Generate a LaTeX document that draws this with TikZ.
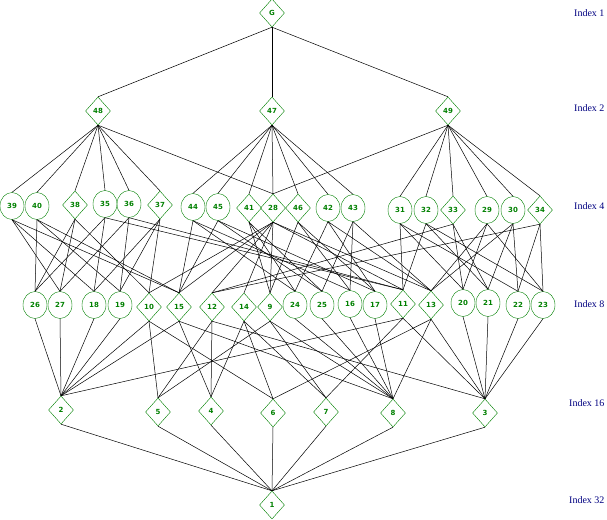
\documentclass[tikz,border=0pt]{standalone}
\usepackage{fontspec}
\setmainfont{Liberation Serif}
\setsansfont{DejaVu Sans}
\usetikzlibrary{shapes.geometric}
\definecolor{ngreen}{RGB}{0,128,0}
\definecolor{nblue}{RGB}{0,0,128}
\tikzset{
  cnode/.style={ellipse,draw=ngreen,text=ngreen,inner sep=0pt,minimum width=24pt,minimum height=27pt,font=\sffamily\bfseries\fontsize{7}{7}\selectfont},
  dnode/.style={diamond,draw=ngreen,text=ngreen,inner sep=0pt,minimum width=25pt,minimum height=28pt,aspect=0.9,font=\sffamily\bfseries\fontsize{7}{7}\selectfont},
  idx/.style={anchor=east,text=nblue,font=\fontsize{10}{10}\selectfont},
  edge/.style={draw=black,line width=0.5pt}
}
\begin{document}
\begin{tikzpicture}[x=1pt,y=-1pt]
\useasboundingbox (0,0) rectangle (607,519);
% index labels
\node[idx] (i1) at (608,13) {Index 1};
\node[idx] (i2) at (608,108) {Index 2};
\node[idx] (i4) at (608,206) {Index 4};
\node[idx] (i8) at (608,304) {Index 8};
\node[idx] (i16) at (608,403) {Index 16};
\node[idx] (i32) at (608,500) {Index 32};
% nodes
\node[dnode] (G) at (272,13) {G};
\node[dnode] (n48) at (98,111) {48};
\node[dnode] (n47) at (272,111) {47};
\node[dnode] (n49) at (448,111) {49};
% index 4
\node[cnode] (n39) at (12,206) {39};
\node[cnode] (n40) at (37,206) {40};
\node[dnode] (n38) at (75,205) {38};
\node[cnode] (n35) at (105,204) {35};
\node[cnode] (n36) at (129,204) {36};
\node[dnode] (n37) at (160,205) {37};
\node[cnode] (n44) at (193,207) {44};
\node[cnode] (n45) at (218,207) {45};
\node[dnode] (n41) at (249,208) {41};
\node[dnode] (n28) at (273,208) {28};
\node[dnode] (n46) at (298,208) {46};
\node[cnode] (n42) at (328,208) {42};
\node[cnode] (n43) at (353,208) {43};
\node[cnode] (n31) at (400,210) {31};
\node[cnode] (n32) at (426,210) {32};
\node[dnode] (n33) at (453,210) {33};
\node[cnode] (n29) at (487,210) {29};
\node[cnode] (n30) at (513,210) {30};
\node[dnode] (n34) at (540,210) {34};
% index 8
\node[cnode] (n26) at (35,305) {26};
\node[cnode] (n27) at (60,305) {27};
\node[cnode] (n18) at (94,305) {18};
\node[cnode] (n19) at (120,305) {19};
\node[dnode] (n10) at (149,307) {10};
\node[dnode] (n15) at (179,307) {15};
\node[dnode] (n12) at (212,307) {12};
\node[dnode] (n14) at (244,307) {14};
\node[dnode] (n9) at (270,307) {9};
\node[cnode] (n24) at (295,305) {24};
\node[cnode] (n25) at (322,305) {25};
\node[cnode] (n16) at (350,304) {16};
\node[cnode] (n17) at (375,305) {17};
\node[dnode] (n11) at (403,304) {11};
\node[dnode] (n13) at (431,305) {13};
\node[cnode] (n20) at (463,303) {20};
\node[cnode] (n21) at (488,303) {21};
\node[cnode] (n22) at (518,305) {22};
\node[cnode] (n23) at (543,305) {23};
% index 16
\node[dnode] (n2) at (61,410) {2};
\node[dnode] (n5) at (158,412) {5};
\node[dnode] (n4) at (211,411) {4};
\node[dnode] (n6) at (273,413) {6};
\node[dnode] (n7) at (326,412) {7};
\node[dnode] (n8) at (393,413) {8};
\node[dnode] (n3) at (485,413) {3};
\node[dnode] (n1) at (272,505) {1};
% edges
\foreach \a/\b in {G/n48,G/n47,G/n49,
  n48/n39,n48/n40,n48/n38,n48/n35,n48/n36,n48/n37,n48/n28,
  n47/n44,n47/n45,n47/n41,n47/n28,n47/n46,n47/n42,n47/n43,
  n49/n28,n49/n31,n49/n32,n49/n33,n49/n29,n49/n30,n49/n34,
  n28/n9,n28/n10,n28/n11,n28/n12,n28/n13,n28/n14,n28/n15,
  n38/n26,n38/n27,n38/n10,n37/n18,n37/n19,n37/n10,
  n39/n27,n39/n18,n39/n15,n40/n26,n40/n19,n40/n15,
  n35/n26,n35/n18,n35/n11,n36/n27,n36/n19,n36/n11,
  n41/n24,n41/n25,n41/n9,n46/n16,n46/n17,n46/n9,
  n44/n24,n44/n16,n44/n15,n45/n25,n45/n17,n45/n15,
  n42/n24,n42/n17,n42/n13,n43/n25,n43/n16,n43/n13,
  n33/n20,n33/n21,n33/n12,n34/n22,n34/n23,n34/n12,
  n31/n20,n31/n22,n31/n11,n32/n21,n32/n23,n32/n11,
  n29/n20,n29/n23,n29/n13,n30/n21,n30/n22,n30/n13,
  n26/n2,n27/n2,n18/n2,n19/n2,
  n24/n8,n25/n8,n16/n8,n17/n8,
  n20/n3,n21/n3,n22/n3,n23/n3,
  n10/n2,n10/n5,n10/n6,
  n15/n2,n15/n8,n15/n4,
  n11/n2,n11/n3,n11/n7,
  n13/n8,n13/n3,n13/n6,
  n12/n3,n12/n5,n12/n4,
  n9/n8,n9/n5,n9/n7,
  n14/n4,n14/n6,n14/n7,
  n2/n1,n5/n1,n4/n1,n6/n1,n7/n1,n8/n1,n3/n1}
  {\draw[edge] (\a.south) -- (\b.north);}
\end{tikzpicture}
\end{document}
